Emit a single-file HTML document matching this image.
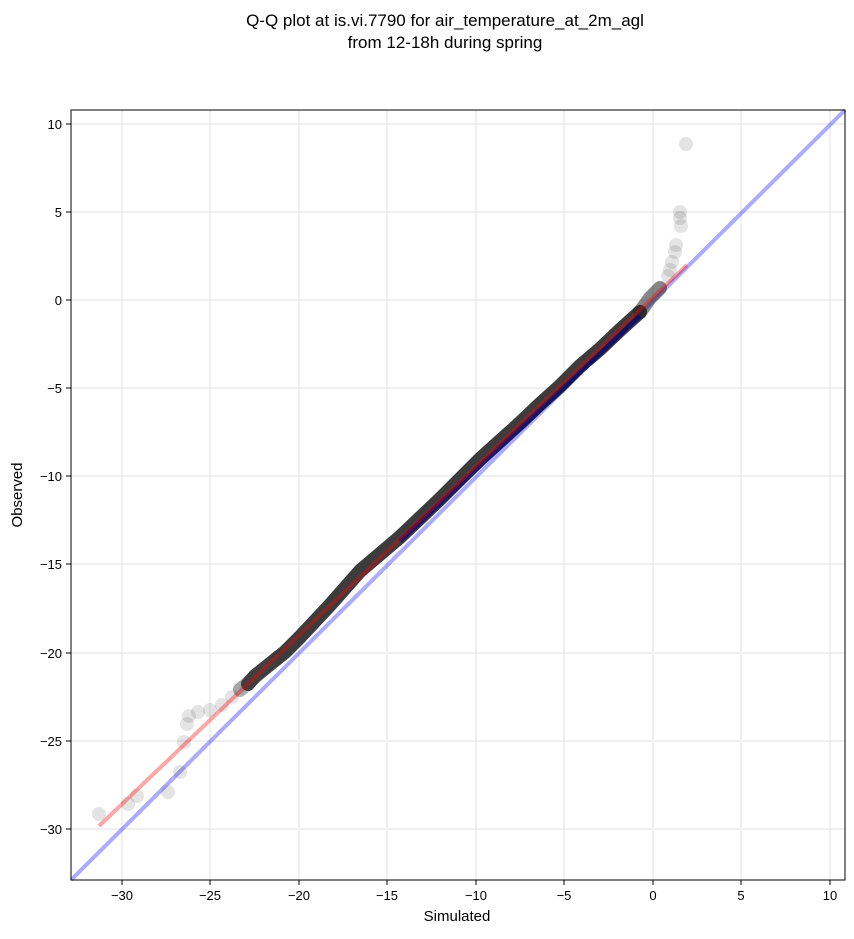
<!DOCTYPE html>
<html><head><style>body{margin:0;background:#fff}svg text{font-family:"Liberation Sans",sans-serif}</style></head><body>
<svg width="854" height="934" xmlns="http://www.w3.org/2000/svg">
<text x="445" y="26" font-size="17" text-anchor="middle">Q-Q plot at is.vi.7790 for air_temperature_at_2m_agl</text>
<text x="445" y="48" font-size="17" text-anchor="middle">from 12-18h during spring</text>
<g stroke="#ebebeb" stroke-width="1.5">
<line x1="122" y1="110" x2="122" y2="880"/><line x1="210" y1="110" x2="210" y2="880"/><line x1="299" y1="110" x2="299" y2="880"/><line x1="387" y1="110" x2="387" y2="880"/><line x1="476" y1="110" x2="476" y2="880"/><line x1="564" y1="110" x2="564" y2="880"/><line x1="653" y1="110" x2="653" y2="880"/><line x1="741" y1="110" x2="741" y2="880"/><line x1="830" y1="110" x2="830" y2="880"/>
<line x1="71" y1="124" x2="845" y2="124"/><line x1="71" y1="212" x2="845" y2="212"/><line x1="71" y1="300" x2="845" y2="300"/><line x1="71" y1="388" x2="845" y2="388"/><line x1="71" y1="476" x2="845" y2="476"/><line x1="71" y1="564" x2="845" y2="564"/><line x1="71" y1="653" x2="845" y2="653"/><line x1="71" y1="741" x2="845" y2="741"/><line x1="71" y1="829" x2="845" y2="829"/>
</g>
<line x1="71" y1="880" x2="845" y2="110" stroke="#0000ff" stroke-opacity="0.33" stroke-width="4"/>
<g fill="#222" fill-opacity="0.12">
<circle cx="99" cy="814" r="7"/><circle cx="128" cy="804" r="7"/><circle cx="137" cy="796" r="7"/><circle cx="168" cy="792" r="7"/><circle cx="180" cy="772" r="7"/><circle cx="184" cy="742" r="7"/><circle cx="187" cy="724" r="7"/><circle cx="189" cy="716" r="7"/><circle cx="198" cy="712" r="7"/><circle cx="210" cy="710" r="7"/><circle cx="222" cy="705" r="7"/><circle cx="232" cy="697" r="7"/><circle cx="240" cy="688" r="7"/>
<circle cx="686" cy="144" r="7"/><circle cx="680" cy="212" r="7"/><circle cx="680" cy="218" r="7"/><circle cx="681" cy="226" r="7"/><circle cx="676" cy="245" r="7"/><circle cx="675" cy="252" r="7"/><circle cx="672" cy="262" r="7"/><circle cx="670" cy="270" r="7"/><circle cx="668" cy="276" r="7"/>
</g>
<path d="M248,684 L255,676 L270,664 L285,652 L300,637 L315,621 L330,605 L345,588 L360,571 L380,554 L400,537 L420,518 L440,499 L460,479 L480,459 L500,441 L520,423 L540,404 L560,386 L580,366 L600,349 L620,330 L640,312" stroke="#111" stroke-opacity="0.82" stroke-width="14" fill="none" stroke-linecap="round" stroke-linejoin="round"/>
<path d="M640,312 L650,298 L660,288" stroke="#222" stroke-opacity="0.55" stroke-width="14" fill="none" stroke-linecap="round"/>
<path d="M240,690 L270,664" stroke="#444" stroke-opacity="0.4" stroke-width="14" fill="none" stroke-linecap="round"/>
<path d="M400,541 L640,316" stroke="#000080" stroke-width="5" fill="none" stroke-opacity="0.6"/>
<line x1="99" y1="826" x2="687" y2="265" stroke="#ff0000" stroke-opacity="0.35" stroke-width="4"/>
<rect x="71" y="110" width="774" height="770" fill="none" stroke="#000" stroke-width="1"/>
<g stroke="#000"><line x1="122" y1="880" x2="122" y2="885"/><line x1="210" y1="880" x2="210" y2="885"/><line x1="299" y1="880" x2="299" y2="885"/><line x1="387" y1="880" x2="387" y2="885"/><line x1="476" y1="880" x2="476" y2="885"/><line x1="564" y1="880" x2="564" y2="885"/><line x1="653" y1="880" x2="653" y2="885"/><line x1="741" y1="880" x2="741" y2="885"/><line x1="830" y1="880" x2="830" y2="885"/>
<line x1="66" y1="124" x2="71" y2="124"/><line x1="66" y1="212" x2="71" y2="212"/><line x1="66" y1="300" x2="71" y2="300"/><line x1="66" y1="388" x2="71" y2="388"/><line x1="66" y1="476" x2="71" y2="476"/><line x1="66" y1="564" x2="71" y2="564"/><line x1="66" y1="653" x2="71" y2="653"/><line x1="66" y1="741" x2="71" y2="741"/><line x1="66" y1="829" x2="71" y2="829"/></g>
<g font-size="13" text-anchor="middle"><text x="122" y="900">−30</text><text x="210" y="900">−25</text><text x="299" y="900">−20</text><text x="387" y="900">−15</text><text x="476" y="900">−10</text><text x="564" y="900">−5</text><text x="653" y="900">0</text><text x="741" y="900">5</text><text x="830" y="900">10</text></g>
<g font-size="13" text-anchor="end"><text x="62" y="129">10</text><text x="62" y="217">5</text><text x="62" y="305">0</text><text x="62" y="393">−5</text><text x="62" y="481">−10</text><text x="62" y="569">−15</text><text x="62" y="658">−20</text><text x="62" y="746">−25</text><text x="62" y="834">−30</text></g>
<text x="457" y="921" font-size="15" text-anchor="middle">Simulated</text>
<text x="22" y="495" font-size="15" text-anchor="middle" transform="rotate(-90 22 495)">Observed</text>
</svg></body></html>
